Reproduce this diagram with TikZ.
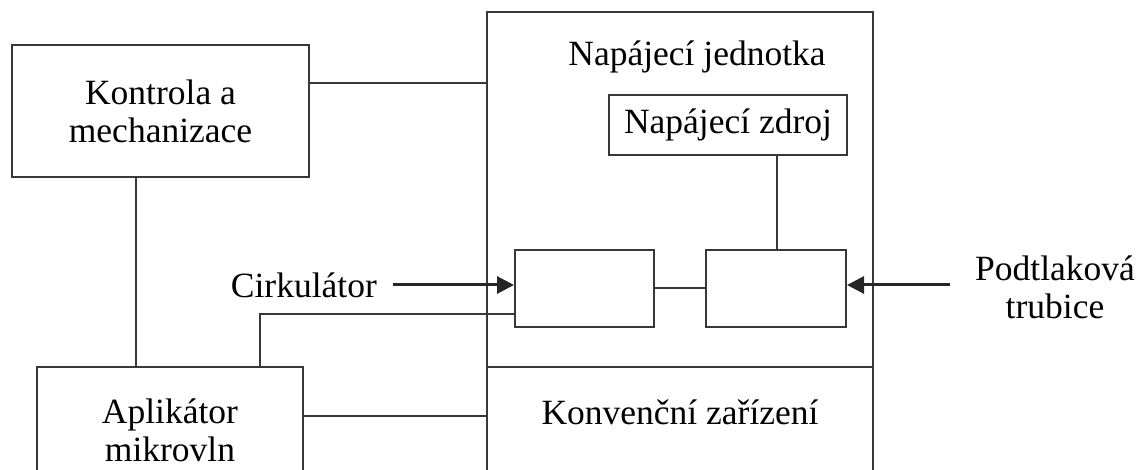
\documentclass[tikz,border=0pt]{standalone}
\usepackage{fontspec}
\setmainfont{Liberation Serif}
\usetikzlibrary{arrows.meta,calc}
\definecolor{linec}{HTML}{383838}
\newcommand{\dlbl}{\fontsize{35.5}{38}\selectfont}
\begin{document}
\begin{tikzpicture}[x=1pt,y=-1pt,
  box/.style={draw=linec,line width=2pt,inner sep=0pt,align=center,font=\dlbl},
  lbl/.style={inner sep=0pt,align=center,font=\dlbl},
  wire/.style={draw=linec,line width=2pt},
  arr/.style={draw=black!85,line width=3pt,-{Triangle[length=17pt,width=17pt]}}]
\useasboundingbox (0,0) rectangle (1138,470);
\clip (0,0) rectangle (1138,470);
\node[box,minimum width=297pt,minimum height=132pt] (kontrola) at (160.5,111) {Kontrola a\\mechanizace};
\node[box,minimum width=386pt,minimum height=490pt] (unit) at (680,257) {};
\node[lbl] (jednotka) at (697,57) {Napájecí jednotka};
\node[box,fill=white,minimum width=238pt,minimum height=60pt] (zdroj) at (728,125) {Napájecí zdroj};
\node[box,minimum width=139pt,minimum height=77pt] (circ) at (584.5,288.5) {};
\node[box,minimum width=140pt,minimum height=77pt] (mag) at (776,288.5) {};
\coordinate (div) at (0,367);
\draw[wire] (unit.west |- div) -- (unit.east |- div);
\node[lbl] (konv) at (680,412) {Konvenční zařízení};
\node[box,minimum width=266pt,minimum height=126pt] (apl) at (170,430) {Aplikátor\\mikrovln};
\node[lbl,anchor=east] (cirk) at (377,285) {Cirkulátor};
\node[lbl] (podt) at (1055,287) {Podtlaková\\trubice};
\coordinate (k1) at (0,83);
\draw[wire] (kontrola.east |- k1) -- (unit.west |- k1);
\coordinate (k2) at (136,0);
\draw[wire] (kontrola.south -| k2) -- (apl.north -| k2);
\coordinate (a1) at (0,416);
\draw[wire] (apl.east |- a1) -- (unit.west |- a1);
\coordinate (a2) at (260,314);
\draw[wire] (apl.north -| a2) -- (a2) -- (circ.west |- a2);
\coordinate (cs) at (393,285);
\draw[arr] (cs) -- (circ.west |- cs);
\draw[wire] (circ.east) -- (mag.west);
\coordinate (ps) at (950,285);
\draw[arr] (ps) -- (mag.east |- ps);
\coordinate (z1) at (777,0);
\draw[wire] (zdroj.south -| z1) -- (mag.north -| z1);
\end{tikzpicture}
\end{document}
